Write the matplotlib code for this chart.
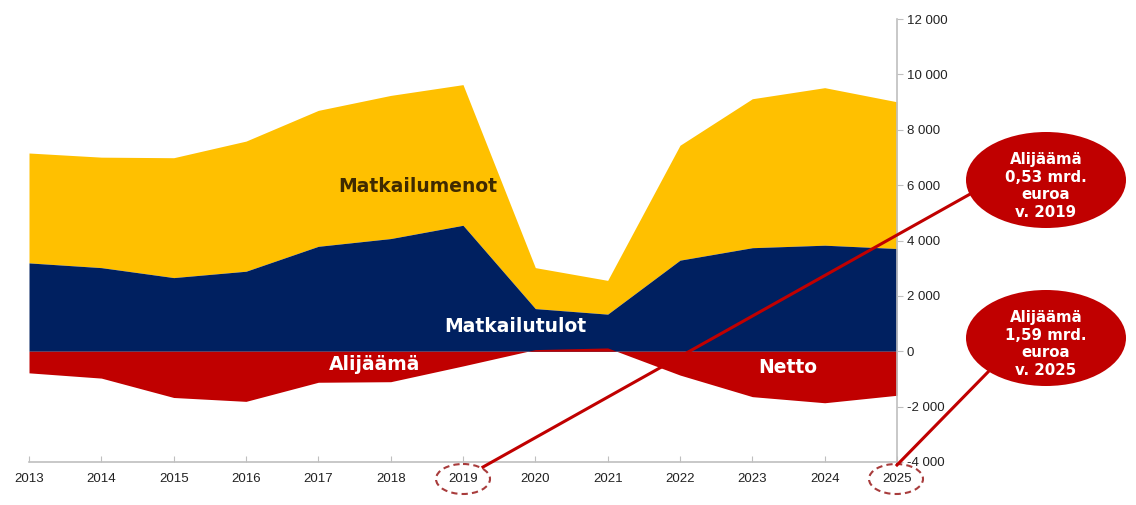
import numpy as np
import matplotlib.pyplot as plt
from matplotlib.patches import Ellipse

years = [2013, 2014, 2015, 2016, 2017, 2018, 2019, 2020, 2021, 2022, 2023, 2024, 2025]
tulot = [3190, 3020, 2660, 2890, 3790, 4070, 4550, 1540, 1340, 3290, 3740, 3830, 3710]   # Matkailutulot
menot = [3970, 3990, 4330, 4700, 4910, 5170, 5080, 1480, 1220, 4150, 5380, 5690, 5300]   # Matkailumenot (stacked on tulot)
netto = [-780, -970, -1670, -1810, -1120, -1100, -530, 60, 120, -860, -1640, -1860, -1590]
yticks = [-4000, -2000, 0, 2000, 4000, 6000, 8000, 10000, 12000]

YELLOW = '#FFC000'
NAVY = '#002060'
RED = '#C00000'

fig = plt.figure(figsize=(11.36, 5.05), dpi=100)
ax = fig.add_axes([29 / 1136, 43 / 505, 868 / 1136, 443 / 505])

top = np.array(tulot) + np.array(menot)
ax.fill_between(years, tulot, top, color=YELLOW, lw=0)
ax.fill_between(years, 0, tulot, color=NAVY, lw=0)
ax.fill_between(years, 0, netto, color=RED, lw=0)

ax.set_xlim(2013, 2025)
ax.set_ylim(-4000, 12000)
ax.set_xticks(years)
ax.set_xticklabels([str(y) for y in years])
ax.set_yticks(yticks)
ax.set_yticklabels([f'{v:,}'.replace(',', ' ') for v in yticks])
ax.yaxis.tick_right()

for s in ['top', 'left']:
    ax.spines[s].set_visible(False)
for s in ['bottom', 'right']:
    ax.spines[s].set_color('#BFBFBF')
    ax.spines[s].set_linewidth(1.2)
ax.tick_params(axis='x', direction='in', length=4, color='#BFBFBF', pad=8,
               labelsize=9.5, labelcolor='#222222')
ax.tick_params(axis='y', direction='out', length=4, color='#BFBFBF', pad=3,
               labelsize=9.5, labelcolor='#222222')
for lab in ax.get_xticklabels() + ax.get_yticklabels():
    lab.set_fontfamily('Liberation Sans')

# series labels
lbl = dict(fontsize=13.5, fontweight='bold', ha='center', va='center')
ax.text(2018.38, 5960, 'Matkailumenot', color='#3F2A00', **lbl)
ax.text(2019.72, 880, 'Matkailutulot', color='white', **lbl)
ax.text(2017.78, -480, 'Alijäämä', color='white', **lbl)
ax.text(2023.49, -590, 'Netto', color='white', **lbl)

# callouts in pixel coordinates on an overlay
ov = fig.add_axes([0, 0, 1, 1], zorder=5)
ov.set_xlim(0, 1136)
ov.set_ylim(505, 0)
ov.axis('off')
ov.patch.set_alpha(0)

ov.plot([483, 972], [467, 193], color=RED, lw=2.2)
ov.plot([897, 988], [465, 372], color=RED, lw=2.2)

for cx, cy in [(463, 479), (896, 479)]:
    ov.add_patch(Ellipse((cx, cy), 54, 30, fill=False, ec='#A83C3C', lw=1.5, ls=(0, (3, 2))))

callouts = [((1046, 180), 'Alijäämä\n0,53 mrd.\neuroa\nv. 2019'),
            ((1046, 338), 'Alijäämä\n1,59 mrd.\neuroa\nv. 2025')]
for (cx, cy), txt in callouts:
    ov.add_patch(Ellipse((cx, cy), 160, 96, color=RED, lw=0))
    ov.text(cx, cy + 6, txt, color='white', fontsize=10.8, fontweight='bold', ha='center',
            va='center', linespacing=1.2, family='DejaVu Sans')

fig.savefig('out.png', dpi=100)
